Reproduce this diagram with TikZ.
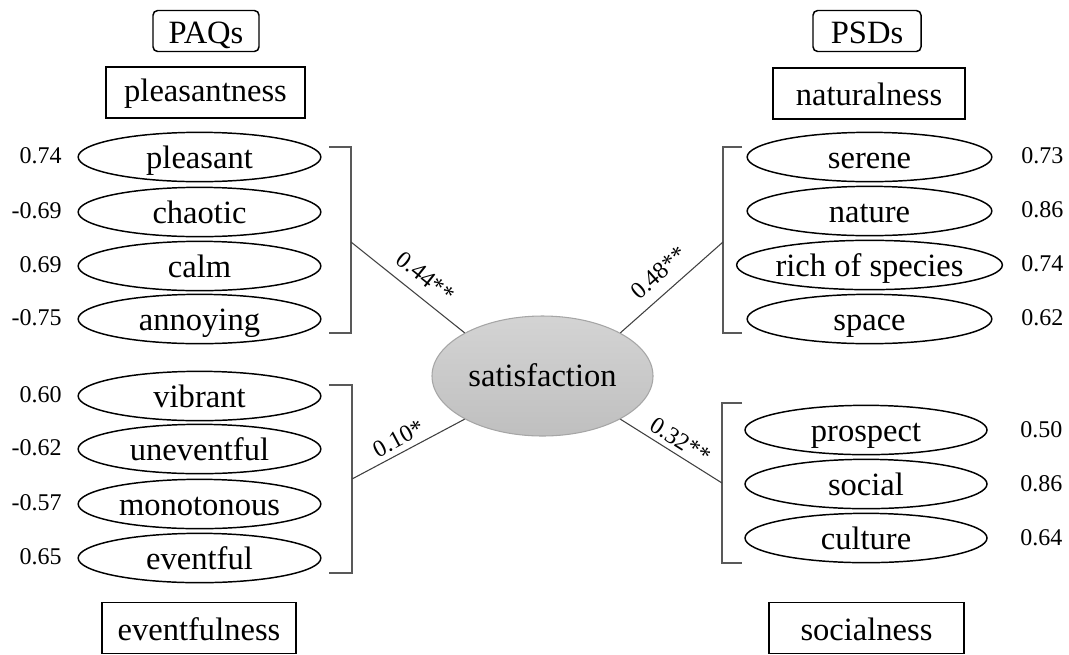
\documentclass[tikz,border=0pt]{standalone}
\usepackage{fontspec}
\setmainfont{Liberation Serif}
\usetikzlibrary{shapes.geometric}
\begin{document}
\begin{tikzpicture}[x=0.75pt,y=-0.75pt,
  bigfont/.style={font=\fontsize{24.4}{28}\selectfont},
  item/.style={ellipse, draw, line width=1.1pt, minimum height=37pt, inner sep=0pt, text height=19.5pt, text depth=3pt, bigfont},
  litem/.style={item, minimum width=182pt},
  ritem/.style={item, minimum width=183.5pt},
  fac/.style={rectangle, draw, line width=1.1pt, minimum height=38pt, inner sep=0pt, text height=20pt, text depth=2pt, bigfont},
  grp/.style={rectangle, draw, rounded corners=3.5pt, line width=1.1pt, minimum height=30.75pt, inner sep=0pt, text height=20pt, text depth=2pt, bigfont},
  load/.style={font=\fontsize{18}{22}\selectfont, inner sep=0pt},
  brk/.style={draw=black!65, line width=0.8pt},
  conn/.style={draw=black!75, line width=0.8pt},
  lab/.style={font=\fontsize{18}{22}\selectfont, inner sep=2pt, sloped}
]
\useasboundingbox (0,0) rectangle (1069,654);

% group headings
\node[grp, minimum width=79.5pt] (paq) at (206,31) {PAQs};
\node[grp, minimum width=81pt] (psd) at (867,31) {PSDs};

% factor boxes
\node[fac, minimum width=149pt, text height=18pt, text depth=4pt] (plea) at (205.5,92.5) {pleasantness};
\node[fac, minimum width=144pt] (natu) at (869,93.5) {naturalness};
\node[fac, minimum width=145.5pt] (even) at (199,628) {eventfulness};
\node[fac, minimum width=146pt] (soci) at (866.5,628) {socialness};

% left items
\node[litem] (pleasant) at (199.5,157) {pleasant};
\node[litem] (chaotic) at (199.5,212) {chaotic};
\node[litem] (calm) at (199.5,266) {calm};
\node[litem] (annoying) at (199.5,319) {annoying};
\node[litem] (vibrant) at (199.5,396) {vibrant};
\node[litem] (uneventful) at (199.5,449) {uneventful};
\node[litem] (monotonous) at (199.5,504) {monotonous};
\node[litem] (eventful) at (199.5,558) {eventful};

% right items
\node[ritem] (serene) at (869.5,157) {serene};
\node[ritem] (nature) at (869.5,211) {nature};
\node[ritem] (rich) at (869.5,265) {rich of species};
\node[ritem] (space) at (869.5,319) {space};
\node[ritem, minimum width=181.5pt] (prospect) at (866,430) {prospect};
\node[ritem, minimum width=181.5pt] (social) at (866,484) {social};
\node[ritem, minimum width=181.5pt] (culture) at (866,538) {culture};

% loadings left
\node[load, anchor=east] (l1) at (62,156) {0.74};
\node[load, anchor=east] (l2) at (62,211) {-0.69};
\node[load, anchor=east] (l3) at (62,265) {0.69};
\node[load, anchor=east] (l4) at (62,318) {-0.75};
\node[load, anchor=east] (l5) at (62,395) {0.60};
\node[load, anchor=east] (l6) at (62,448) {-0.62};
\node[load, anchor=east] (l7) at (62,503) {-0.57};
\node[load, anchor=east] (l8) at (62,557) {0.65};

% loadings right
\node[load, anchor=west] (r1) at (1021,156) {0.73};
\node[load, anchor=west] (r2) at (1021,210) {0.86};
\node[load, anchor=west] (r3) at (1021,264) {0.74};
\node[load, anchor=west] (r4) at (1021,318) {0.62};
\node[load, anchor=west] (r5) at (1020,430) {0.50};
\node[load, anchor=west] (r6) at (1020,484) {0.86};
\node[load, anchor=west] (r7) at (1020,538) {0.64};

% satisfaction
\node[ellipse, draw=black!35, line width=0.8pt, top color=black!17, bottom color=black!25,
      minimum width=165.75pt, minimum height=90pt, inner sep=0pt, text height=19pt, text depth=3pt, bigfont] (sat) at (542.5,376) {satisfaction};

% brackets
\draw[brk] (329,147) -- (351,147) -- (351,333) -- (329,333);
\draw[brk] (329,385) -- (352,385) -- (352,573) -- (329,573);
\draw[brk] (742,147) -- (723,147) -- (723,333) -- (742,333);
\draw[brk] (742,403) -- (722,403) -- (722,563) -- (742,563);
\coordinate (bpl) at (351,242);
\coordinate (bev) at (352,479);
\coordinate (bna) at (723,242);
\coordinate (bso) at (722,483);

% paths
\draw[conn] (bpl) -- node[lab, above=6pt, pos=0.55] {0.44**} (sat.151);
\draw[conn] (bev) -- node[lab, above=2pt, pos=0.47] {0.10*} (sat.209);
\draw[conn] (sat.29) -- node[lab, above=6pt, pos=0.5] {0.48**} (bna);
\draw[conn] (sat.331) -- node[lab, above=2pt, pos=0.52] {0.32**} (bso);
\end{tikzpicture}
\end{document}
